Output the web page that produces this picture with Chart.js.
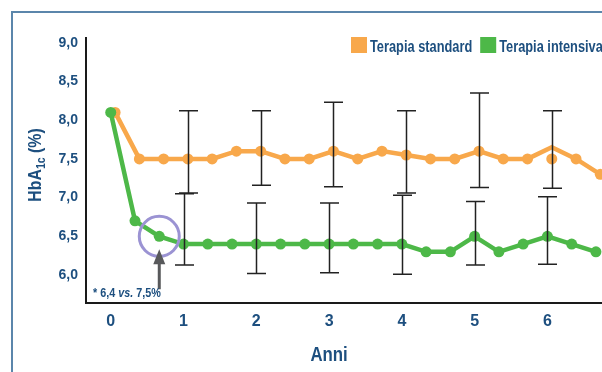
<!DOCTYPE html>
<html>
<head>
<meta charset="utf-8">
<script src="https://cdn.jsdelivr.net/npm/chart.js@4"></script>
<style>
  html, body { margin: 0; padding: 0; background: #ffffff; }
  #wrap { width: 602px; height: 372px; position: relative; }
</style>
</head>
<body>
<div id="wrap"><canvas id="hba1c" width="602" height="372"></canvas></div>
<script>
// Visit times (months from randomisation)
const visitMonths = [0, 4, 8, 12, 16, 20, 24, 28, 32, 36, 40, 44, 48, 52, 56, 60, 64, 68, 72, 76, 80];

// Mean HbA1c (%) per visit
const standardMeans  = [8.1, 7.5, 7.5, 7.5, 7.5, 7.6, 7.6, 7.5, 7.5, 7.6, 7.5, 7.6, 7.55, 7.5, 7.5, 7.6, 7.5, 7.5, 7.5, 7.5, 7.3];
// Connecting line of the standard arm (year-6 vertex sits above its marker)
const standardPath   = [8.1, 7.5, 7.5, 7.5, 7.5, 7.6, 7.6, 7.5, 7.5, 7.6, 7.5, 7.6, 7.55, 7.5, 7.5, 7.6, 7.5, 7.5, 7.65, 7.5, 7.3];
const intensiveMeans = [8.1, 6.7, 6.5, 6.4, 6.4, 6.4, 6.4, 6.4, 6.4, 6.4, 6.4, 6.4, 6.4, 6.3, 6.3, 6.5, 6.3, 6.4, 6.5, 6.4, 6.3];

// Yearly dispersion bars
const barYears       = [1, 2, 3, 4, 5, 6];
const standardUpper  = [8.12, 8.12, 8.23, 8.12, 8.35, 8.12];
const standardLower  = [7.06, 7.16, 7.14, 7.06, 7.13, 7.12];
const intensiveUpper = [7.05, 6.93, 6.93, 7.03, 6.95, 7.01];
const intensiveLower = [6.13, 6.02, 6.03, 6.01, 6.13, 6.14];

// Axis ticks
const xTicks = [0, 1, 2, 3, 4, 5, 6];
const yTicks = [6.0, 6.5, 7.0, 7.5, 8.0, 8.5, 9.0];

const seriesNames = ['Terapia standard', 'Terapia intensiva'];
const noteParts = ['* 6,4 ', 'vs.', ' 7,5%'];

// Styling
const FONT = '"Liberation Sans", Arial, sans-serif';
const INK = '#1d4f7f';
const ORANGE = '#f8a84b';
const GREEN = '#4db848';
const FRAME = '#5b86ab';
const STANDARD_SHIFT = 0.06; // standard arm drawn a touch right of the intensive arm

const toYears = m => m / 12;

// draws horizontally condensed text, returns the advance width
function condensed(ctx, text, x, y, font, squeeze) {
  ctx.save();
  ctx.font = font;
  ctx.translate(x, y);
  ctx.scale(squeeze, 1);
  ctx.fillText(text, 0, 0);
  const w = ctx.measureText(text).width * squeeze;
  ctx.restore();
  return w;
}
function condensedWidth(ctx, text, font, squeeze) {
  ctx.save();
  ctx.font = font;
  const w = ctx.measureText(text).width * squeeze;
  ctx.restore();
  return w;
}

const decorations = {
  id: 'decorations',
  beforeDraw(chart) {
    const { ctx } = chart;
    ctx.save();
    ctx.strokeStyle = FRAME;
    ctx.lineWidth = 2;
    ctx.beginPath();
    ctx.moveTo(602, 12);
    ctx.lineTo(12, 12);
    ctx.lineTo(12, 372);
    ctx.stroke();
    ctx.restore();
  },
  afterDatasetsDraw(chart) {
    const { ctx, scales: { x, y } } = chart;
    ctx.save();
    // dispersion bars
    ctx.strokeStyle = '#222222';
    ctx.lineWidth = 1.5;
    const bar = (xv, lo, hi) => {
      const px = Math.round(x.getPixelForValue(xv)) + 0.5;
      const pLo = y.getPixelForValue(lo), pHi = y.getPixelForValue(hi);
      ctx.beginPath();
      ctx.moveTo(px, pHi); ctx.lineTo(px, pLo);
      ctx.moveTo(px - 9.5, pHi); ctx.lineTo(px + 9.5, pHi);
      ctx.moveTo(px - 9.5, pLo); ctx.lineTo(px + 9.5, pLo);
      ctx.stroke();
    };
    barYears.forEach((yr, i) => {
      bar(yr + STANDARD_SHIFT, standardLower[i], standardUpper[i]);
      bar(yr, intensiveLower[i], intensiveUpper[i]);
    });

    // highlighted early visit of the intensive arm
    const cx = x.getPixelForValue(toYears(visitMonths[2]));
    const cy = y.getPixelForValue(intensiveMeans[2]);
    ctx.strokeStyle = '#9b93d3';
    ctx.lineWidth = 3;
    ctx.beginPath();
    ctx.arc(cx, cy, 20, 0, Math.PI * 2);
    ctx.stroke();

    // arrow pointing up at it
    ctx.fillStyle = '#58595b';
    const tip = cy + 13;
    ctx.beginPath();
    ctx.moveTo(cx, tip);
    ctx.lineTo(cx + 6, tip + 15);
    ctx.lineTo(cx + 1.5, tip + 15);
    ctx.lineTo(cx + 1.5, tip + 40);
    ctx.lineTo(cx - 1.5, tip + 40);
    ctx.lineTo(cx - 1.5, tip + 15);
    ctx.lineTo(cx - 6, tip + 15);
    ctx.closePath();
    ctx.fill();

    // note
    const area = chart.chartArea;
    let tx = area.left + 7;
    const ty = area.bottom - 6;
    ctx.fillStyle = INK;
    ctx.textBaseline = 'alphabetic';
    ctx.textAlign = 'left';
    noteParts.forEach((part, i) => {
      const f = (i === 1 ? 'italic ' : '') + 'bold 12px ' + FONT;
      tx += condensed(ctx, part, tx, ty, f, 0.9);
    });
    ctx.restore();
  },
  afterDraw(chart) {
    const { ctx, scales: { x } } = chart;
    ctx.save();
    ctx.fillStyle = INK;
    ctx.textAlign = 'left';
    ctx.textBaseline = 'alphabetic';

    // x title
    const xFont = 'bold 21px ' + FONT, xSq = 0.8;
    const aw = condensedWidth(ctx, 'Anni', xFont, xSq);
    condensed(ctx, 'Anni', x.getPixelForValue(3) - aw / 2, 361, xFont, xSq);

    // y title with subscript
    const big = 'bold 18px ' + FONT, small = 'bold 12px ' + FONT, ySq = 0.88;
    const w1 = condensedWidth(ctx, 'HbA', big, ySq);
    const w2 = condensedWidth(ctx, '1c', small, ySq);
    const w3 = condensedWidth(ctx, ' (%)', big, ySq);
    const total = w1 + w2 + w3;
    ctx.translate(41, 165);
    ctx.rotate(-Math.PI / 2);
    let px = -total / 2;
    px += condensed(ctx, 'HbA', px, 0, big, ySq);
    px += condensed(ctx, '1c', px, 4, small, ySq);
    condensed(ctx, ' (%)', px, 0, big, ySq);
    ctx.setTransform(1, 0, 0, 1, 0, 0);

    // legend
    const lFont = 'bold 16px ' + FONT, lSq = 0.8;
    let lx = 351;
    [ORANGE, GREEN].forEach((col, i) => {
      ctx.fillStyle = col;
      ctx.fillRect(lx, 37, 16, 16);
      lx += 19;
      ctx.fillStyle = INK;
      lx += condensed(ctx, seriesNames[i], lx, 52, lFont, lSq) + 8;
    });
    ctx.restore();
  }
};

new Chart(document.getElementById('hba1c'), {
  type: 'line',
  data: {
    datasets: [
      {
        label: seriesNames[1],
        data: visitMonths.map((m, i) => ({ x: toYears(m), y: intensiveMeans[i] })),
        borderColor: GREEN,
        backgroundColor: GREEN,
        borderWidth: 4.5,
        pointRadius: 5.5,
        pointBorderWidth: 0,
        tension: 0
      },
      {
        label: seriesNames[0],
        data: visitMonths.map((m, i) => ({ x: toYears(m) + STANDARD_SHIFT, y: standardMeans[i] })),
        showLine: false,
        backgroundColor: ORANGE,
        borderColor: ORANGE,
        pointRadius: 5.5,
        pointBorderWidth: 0
      },
      {
        label: seriesNames[0],
        data: visitMonths.map((m, i) => ({ x: toYears(m) + STANDARD_SHIFT, y: standardPath[i] })),
        borderColor: ORANGE,
        borderWidth: 4.5,
        pointRadius: 0,
        tension: 0
      }
    ]
  },
  options: {
    responsive: false,
    animation: false,
    events: [],
    layout: { autoPadding: false, padding: { top: 38, left: 0, right: 0, bottom: 0 } },
    plugins: { legend: { display: false }, tooltip: { enabled: false } },
    scales: {
      x: {
        type: 'linear',
        min: -0.34,
        max: 6.75,
        afterFit(s) { s.height = 69; },
        afterBuildTicks(s) { s.ticks = xTicks.map(v => ({ value: v })); },
        grid: { display: false, drawTicks: false },
        border: { display: true, color: '#1a1a1a', width: 2 },
        ticks: { color: INK, font: { family: FONT, size: 16, weight: 'bold' }, padding: 9, autoSkip: false, maxRotation: 0, callback: v => String(v) }
      },
      y: {
        type: 'linear',
        min: 5.64,
        max: 9.06,
        afterFit(s) { s.width = 86; },
        afterBuildTicks(s) { s.ticks = yTicks.map(v => ({ value: v })); },
        grid: { display: false, drawTicks: false },
        border: { display: true, color: '#1a1a1a', width: 2 },
        ticks: { color: INK, font: { family: FONT, size: 14, weight: 'bold' }, padding: 8, autoSkip: false, callback: v => Number(v).toFixed(1).replace('.', ',') }
      }
    }
  },
  plugins: [decorations]
});
</script>
</body>
</html>
